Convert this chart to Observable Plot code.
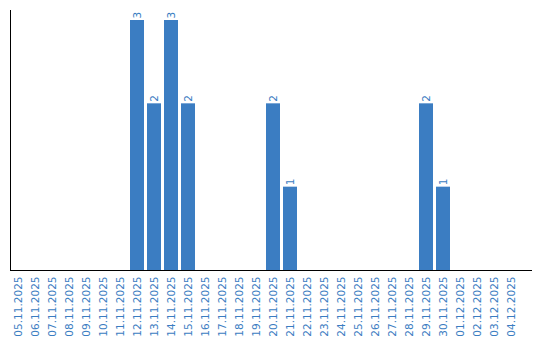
<!DOCTYPE html>
<html>
<head>
<meta charset="utf-8">
<script src="https://cdn.jsdelivr.net/npm/d3@7"></script>
<script src="https://cdn.jsdelivr.net/npm/@observablehq/plot@0.6"></script>
<style>
  html, body { margin: 0; padding: 0; background: #fff; }
  #chart svg { display: block; font-family: "DejaVu Sans", sans-serif; }
</style>
</head>
<body>
<div id="chart"></div>
<script>
const dates = [
  "05.11.2025","06.11.2025","07.11.2025","08.11.2025","09.11.2025","10.11.2025",
  "11.11.2025","12.11.2025","13.11.2025","14.11.2025","15.11.2025","16.11.2025",
  "17.11.2025","18.11.2025","19.11.2025","20.11.2025","21.11.2025","22.11.2025",
  "23.11.2025","24.11.2025","25.11.2025","26.11.2025","27.11.2025","28.11.2025",
  "29.11.2025","30.11.2025","01.12.2025","02.12.2025","03.12.2025","04.12.2025"
];
const counts = [0,0,0,0,0,0,0,3,2,3,2,0,0,0,0,2,1,0,0,0,0,0,0,0,2,1,0,0,0,0];

const data = dates.map((d, i) => ({date: d, count: counts[i]}));
const blue = "#3b7dc2";

const chart = Plot.plot({
  width: 540,
  height: 340,
  marginLeft: 11,
  marginRight: 9,
  marginTop: 10,
  marginBottom: 70,
  style: {fontFamily: "'DejaVu Sans', sans-serif", fontSize: "10.5px", background: "#fff"},
  x: {type: "band", domain: dates, paddingInner: 3/17, paddingOuter: 0.375, align: 0, round: true},
  y: {domain: [0, 3.12], axis: null},
  marks: [
    Plot.barY(data, {x: "date", y: "count", fill: blue}),
    Plot.text(data.filter(d => d.count > 0), {
      x: "date", y: "count", text: d => String(d.count),
      rotate: -90, textAnchor: "start", dy: -2, fill: blue, fontSize: 10.5,
      fontFamily: "'DejaVu Sans', sans-serif"
    }),
    Plot.axisX({tickSize: 0, tickPadding: 6, tickRotate: -90, color: blue, fill: blue, label: null,
      fontSize: 10.5, fontFamily: "'DejaVu Sans', sans-serif"}),
    Plot.frame({anchor: "left", stroke: "#000", dx: -1}),
    Plot.frame({anchor: "bottom", stroke: "#000", insetLeft: -1})
  ]
});
document.getElementById("chart").appendChild(chart);
</script>
</body>
</html>
